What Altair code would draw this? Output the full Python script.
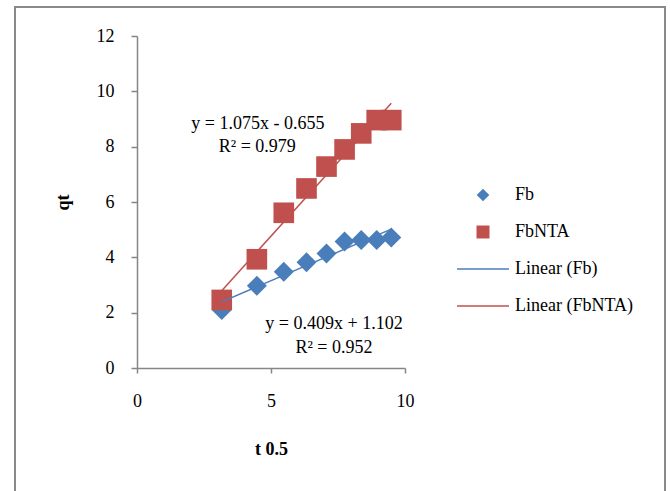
import altair as alt
import pandas as pd

# ---- data ----
t_sqrt = [3.162, 4.472, 5.477, 6.325, 7.071, 7.746, 8.367, 8.944, 9.487]
qt_fb = [2.10, 2.97, 3.48, 3.82, 4.14, 4.57, 4.63, 4.63, 4.72]
qt_fbnta = [2.46, 3.93, 5.61, 6.49, 7.28, 7.90, 8.48, 8.96, 8.96]
series_names = ["Fb", "FbNTA"]
legend_labels = ["Fb", "FbNTA", "Linear (Fb)", "Linear (FbNTA)"]
eq_texts = ["y = 1.075x - 0.655", "R² = 0.979", "y = 0.409x + 1.102", "R² = 0.952"]
x_ticks = [0, 5, 10]
y_ticks = [0, 2, 4, 6, 8, 10, 12]

# annotation placement (data units)
eq_x = [4.51, 4.49, 7.35, 7.35]
eq_y = [8.82, 7.98, 1.59, 0.72]

BLUE = "#4A7EBB"
RED = "#C0504D"
GREY = "#868686"
FONT = "Liberation Serif"
FS = 18

DIAMOND = "M0,-0.63L0.63,0L0,0.63L-0.63,0Z"
SQUARE = "M-0.65,-0.65L0.65,-0.65L0.65,0.65L-0.65,0.65Z"
LINE = "M-2.6,-0.075L2.6,-0.075L2.6,0.075L-2.6,0.075Z"

points = pd.DataFrame({
    "t": t_sqrt + t_sqrt,
    "qt": qt_fb + qt_fbnta,
    "series": [series_names[0]] * len(qt_fb) + [series_names[1]] * len(qt_fbnta),
})
ann = pd.DataFrame({"t": eq_x, "qt": eq_y, "label": eq_texts})

x_enc = alt.X("t:Q", scale=alt.Scale(domain=[0, 10], nice=False),
              axis=alt.Axis(values=x_ticks, title="t 0.5", grid=False,
                            tickSize=5, labelPadding=19, labelFlush=False,
                            titleY=81, titleBaseline="middle"))
y_enc = alt.Y("qt:Q", scale=alt.Scale(domain=[0, 12], nice=False),
              axis=alt.Axis(values=y_ticks, title="qt", grid=False,
                            tickSize=6, labelPadding=17, labelFlush=False,
                            titleX=-74, titleY=166, titleAngle=270,
                            titleAlign="center", titleBaseline="middle"))

leg = dict(orient="none", legendX=336, legendY=149, title=None,
           symbolSize=400, labelFont=FONT, labelFontSize=FS,
           labelColor="black", labelOffset=22, rowPadding=18,
           padding=0, symbolStrokeWidth=0, labelLimit=0)

frame = alt.Chart(pd.DataFrame({"k": [0]})).mark_rect(
    filled=False, stroke="#8a8a8a", strokeWidth=2
).encode(x=alt.value(-122), x2=alt.value(528), y=alt.value(-29), y2=alt.value(470))

pts = alt.Chart(points).mark_point(filled=True, opacity=1, size=1008).encode(
    x=x_enc, y=y_enc,
    color=alt.Color("series:N", scale=alt.Scale(domain=legend_labels, range=[BLUE, RED, BLUE, RED]),
                    legend=alt.Legend(**leg)),
    shape=alt.Shape("series:N", scale=alt.Scale(domain=legend_labels, range=[DIAMOND, SQUARE, LINE, LINE]),
                    legend=alt.Legend(**leg)),
)

lines = alt.Chart(points).transform_regression(
    "t", "qt", groupby=["series"]
).mark_line(strokeWidth=1.5).encode(
    x="t:Q", y="qt:Q",
    stroke=alt.Stroke("series:N", scale=alt.Scale(domain=series_names, range=[BLUE, RED]), legend=None),
)

texts = alt.Chart(ann).mark_text(font=FONT, fontSize=FS, color="black", baseline="middle").encode(
    x="t:Q", y="qt:Q", text="label:N"
)

chart = alt.layer(frame, pts, lines, texts).properties(
    width=268, height=332,
    background="white",
    autosize=alt.AutoSizeParams(type="none"),
    padding={"left": 137, "top": 36, "right": 265, "bottom": 123},
).configure_view(stroke=None).configure_axis(
    domainColor=GREY, domainWidth=1.5, tickColor=GREY, tickWidth=1.5,
    labelFont=FONT, labelFontSize=FS, labelColor="black",
    titleFont=FONT, titleFontSize=FS, titleFontWeight="bold", titleColor="black",
)

chart.save("out.html", embed_options={"renderer": "svg", "actions": False})
